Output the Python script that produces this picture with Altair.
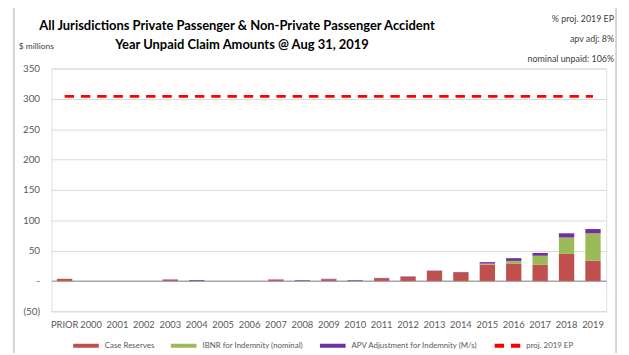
import altair as alt
import pandas as pd

categories = ["PRIOR", "2000", "2001", "2002", "2003", "2004", "2005", "2006", "2007", "2008",
              "2009", "2010", "2011", "2012", "2013", "2014", "2015", "2016", "2017", "2018", "2019"]
case_reserves = [3.5, 0, 0, 0, 2, 0, 0, 0, 2, 0, 2.5, 0, 4.5, 7, 16.5, 14, 27, 28, 26.5, 44.5, 33.5]
ibnr_nominal = [0, 0, 0, 0, 0, 0, 0, 0, 0, 0, 0, 0, 0, 0, 0, 0, 1.5, 5, 15, 27, 45]
apv_adjustment = [0, 0, 0, 0, 0.5, 1.2, 0, 0, 0.5, 1, 1, 1, 0.5, 0.5, 0.5, 0.8, 2.5, 4.5, 4.5, 7, 7]
proj_ep = [304, 304, 304, 304, 304, 304, 304, 304, 304, 304, 304, 304, 304, 304, 304, 304, 304,
           304, 304, 304, 304]

series_names = ["Case Reserves", "IBNR for Indemnity (nominal)",
                "APV Adjustment for Indemnity (M/s)", "proj. 2019 EP"]
series_colors = ["#C0504D", "#9BBB59", "#7030A0", "#FF0000"]
y_ticks = [-50, 0, 50, 100, 150, 200, 250, 300, 350]

title_lines = ["All Jurisdictions Private Passenger & Non-Private Passenger Accident",
               "Year Unpaid Claim Amounts @ Aug 31, 2019"]
unit_label = "$ millions"
side_notes = ["% proj. 2019 EP", "apv adj: 8%", "nominal unpaid: 106%"]

FONT = "Lato"
GREY = "#595959"

rows = []
for i, c in enumerate(categories):
    for k, (name, vals) in enumerate(zip(series_names[:3], [case_reserves, ibnr_nominal, apv_adjustment])):
        rows.append({"category": c, "series": name, "value": vals[i], "order": k})
bars_df = pd.DataFrame(rows)
ep_df = pd.DataFrame({"category": categories, "value": proj_ep, "series": series_names[3]})

x_scale = alt.Scale(domain=categories, paddingInner=0, paddingOuter=0)
y_scale = alt.Scale(domain=[-50, 350], nice=False, zero=False)

y_axis = alt.Axis(title=None, values=y_ticks, ticks=False, domain=False, labelOverlap=False,
                  labelFont=FONT, labelFontSize=10, labelColor=GREY, labelPadding=12,
                  labelExpr="datum.value == 0 ? '-' : (datum.value < 0 ? '(' + abs(datum.value) + ')' : datum.value)",
                  gridColor={"condition": {"test": "datum.value === 0", "value": "#a6a6a6"}, "value": "#d9d9d9"},
                  gridWidth={"condition": {"test": "datum.value === 0", "value": 1.5}, "value": 1})

bars = alt.Chart(bars_df).mark_bar(width={"band": 0.58}).encode(
    x=alt.X("category:N", scale=x_scale, sort=categories,
            axis=alt.Axis(title=None, labelAngle=0, ticks=False, domain=False, labelOverlap=False,
                          labelFont=FONT, labelFontSize=9.5, labelColor=GREY, labelPadding=8)),
    y=alt.Y("value:Q", stack="zero", scale=y_scale, axis=y_axis),
    color=alt.Color("series:N", scale=alt.Scale(domain=series_names[:3], range=series_colors[:3]), legend=None),
    order=alt.Order("order:Q", sort="ascending"),
)

legend_cfg = dict(title=None, orient="none", legendX=20, legendY=266,
                  direction="horizontal", symbolType="stroke",
                  symbolSize=676, symbolStrokeWidth=4,
                  labelFont=FONT, labelFontSize=8, labelColor=GREY,
                  labelOffset=4, columnPadding=8)

ep_line = alt.Chart(ep_df).mark_line(strokeWidth=3).encode(
    x=alt.X("category:N", scale=x_scale, sort=categories, bandPosition=0.5),
    y=alt.Y("value:Q", scale=y_scale, axis=y_axis),
    stroke=alt.Stroke("series:N", scale=alt.Scale(domain=series_names, range=series_colors),
                      legend=alt.Legend(**legend_cfg)),
    strokeDash=alt.StrokeDash("series:N", scale=alt.Scale(domain=series_names,
                                                          range=[[1, 0], [1, 0], [1, 0], [9.5, 7]]),
                              legend=alt.Legend(**legend_cfg)),
)

def text_mark(txt, x, y, size, weight="normal", align="left", color="#262626"):
    return alt.Chart(pd.DataFrame({"t": [txt]})).mark_text(
        font=FONT, fontSize=size, fontWeight=weight, align=align, baseline="alphabetic", color=color
    ).encode(text="t:N", x=alt.value(x), y=alt.value(y))

frame = alt.Chart(pd.DataFrame({"f": [1]})).mark_rect(
    filled=False, stroke="#c8c8c8", strokeWidth=1.5
).encode(x=alt.value(-38), x2=alt.value(572), y=alt.value(-62), y2=alt.value(320))

texts = [
    text_mark(title_lines[0], 188, -39, 13.1, "bold", "center", "#000000"),
    text_mark(title_lines[1], 193, -19.5, 13.1, "bold", "center", "#000000"),
    text_mark(unit_label, -33, -19.5, 8.5, color="#404040"),
    text_mark(side_notes[0], 570, -47.5, 9, align="right", color="#404040"),
    text_mark(side_notes[1], 570, -26.5, 9, align="right", color="#404040"),
    text_mark(side_notes[2], 570, -6.5, 9, align="right", color="#404040"),
]

chart = alt.layer(frame, bars, ep_line, *texts).properties(
    width=562, height=246,
    autosize=alt.AutoSizeParams(type="none"),
    padding={"left": 44, "top": 59, "right": 15, "bottom": 40},
).configure_view(stroke=None).configure(background="white")

chart.save("out.html", embed_options={"renderer": "svg", "actions": False})
